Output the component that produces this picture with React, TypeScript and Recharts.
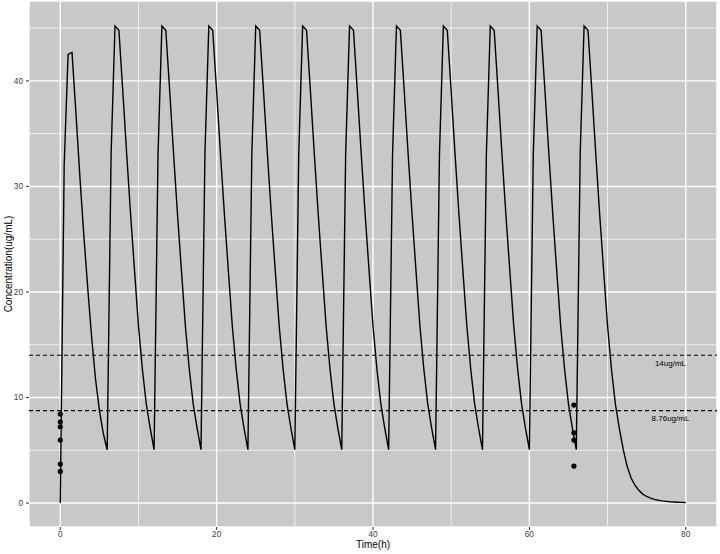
import {
  ComposedChart,
  Line,
  Scatter,
  XAxis,
  YAxis,
  CartesianGrid,
  ReferenceLine,
} from 'recharts';

// one point every half hour, a dose every 6 h
const STEP = 0.5;
const DOSE_INTERVAL = 6;
const DOSE_COUNT = 12;

// concentration over the first dosing interval (t = 0 .. 5.5)
const firstCycle = [0, 32, 42.5, 42.7, 37.0, 31.0, 25.5, 20.5, 15.8, 11.8, 8.8, 6.6];
// concentration over every later interval (relative t = 0 .. 5.5)
const steadyCycle = [5.05, 33, 45.2, 44.8, 39.0, 33.0, 27.3, 22.0, 16.8, 12.7, 9.4, 7.1];
// after the last dose, t = 72 .. 80
const washout = [
  5.1, 3.5, 2.4, 1.7, 1.2, 0.85, 0.62, 0.46, 0.35, 0.27, 0.2, 0.16, 0.12, 0.1, 0.08,
  0.06, 0.05,
];

// measured samples
const earlyObsTime = 0;
const earlyObs = [8.43, 7.7, 7.23, 5.97, 3.69, 3.0];
const lateObsTime = 65.7;
const lateObs = [9.28, 6.66, 5.97, 3.5];

const xTicks = [0, 20, 40, 60, 80];
const xMinor = [10, 30, 50, 70];
const yTicks = [0, 10, 20, 30, 40];
const yMinor = [5, 15, 25, 35, 45];

const thresholds = [
  { value: 14, label: '14ug/mL' },
  { value: 8.76, label: '8.76ug/mL' },
];

const curve: { t: number; conc: number }[] = [];
for (let d = 0; d < DOSE_COUNT; d++) {
  const cycle = d === 0 ? firstCycle : steadyCycle;
  cycle.forEach((c, i) => curve.push({ t: d * DOSE_INTERVAL + i * STEP, conc: c }));
}
washout.forEach((c, i) =>
  curve.push({ t: DOSE_COUNT * DOSE_INTERVAL + i * STEP, conc: c })
);

const observed = [
  ...earlyObs.map((c) => ({ t: earlyObsTime, conc: c })),
  ...lateObs.map((c) => ({ t: lateObsTime, conc: c })),
];

const FONT = '"Liberation Sans", Arial, sans-serif';
const PANEL = '#C8C8C8';

function ThresholdLabel({ viewBox, text }: any) {
  if (!viewBox) return null;
  return (
    <text
      x={viewBox.x + viewBox.width - 46.5}
      y={viewBox.y + 8}
      textAnchor="middle"
      dominantBaseline="central"
      fontSize={8}
      fontFamily={FONT}
      fill="#000"
    >
      {text}
    </text>
  );
}

function XTitle({ viewBox }: any) {
  if (!viewBox) return null;
  return (
    <text
      x={viewBox.x + viewBox.width / 2}
      y={viewBox.y + 20.5}
      textAnchor="middle"
      fontSize={10}
      fontFamily={FONT}
      fill="#000"
    >
      Time(h)
    </text>
  );
}

function YTitle({ viewBox }: any) {
  if (!viewBox) return null;
  const cy = viewBox.y + viewBox.height / 2;
  return (
    <text
      x={11.5}
      y={cy}
      transform={`rotate(-90, 11.5, ${cy})`}
      textAnchor="middle"
      fontSize={10}
      fontFamily={FONT}
      fill="#000"
    >
      Concentration(ug/mL)
    </text>
  );
}

export default function App() {
  return (
    <div
      style={{
        position: 'absolute',
        left: 0,
        top: 0,
        width: 720,
        height: 554,
        background: '#fff',
      }}
    >
      <ComposedChart
        width={720}
        height={554}
        data={curve}
        margin={{ top: 1, right: 3, bottom: 0, left: 0 }}
      >
        <CartesianGrid fill={PANEL} stroke="#fff" strokeWidth={1.4} />
        {xMinor.map((x) => (
          <ReferenceLine key={`vx${x}`} x={x} stroke="#fff" strokeWidth={0.7} />
        ))}
        {yMinor.map((y) => (
          <ReferenceLine key={`hy${y}`} y={y} stroke="#fff" strokeWidth={0.7} />
        ))}
        <XAxis
          type="number"
          dataKey="t"
          domain={[-4, 84]}
          ticks={xTicks}
          allowDataOverflow
          axisLine={false}
          tickSize={3}
          tickMargin={1}
          tickLine={{ stroke: '#333' }}
          tick={{ fill: '#404040', fontSize: 8.3, fontFamily: FONT }}
          height={27}
          label={<XTitle />}
        />
        <YAxis
          type="number"
          domain={[-2.27, 47.57]}
          ticks={yTicks}
          allowDataOverflow
          axisLine={false}
          tickSize={3}
          tickMargin={3}
          tickLine={{ stroke: '#333' }}
          tick={{ fill: '#404040', fontSize: 8.3, fontFamily: FONT }}
          width={29}
          label={<YTitle />}
        />
        {thresholds.map((th) => (
          <ReferenceLine
            key={th.label}
            y={th.value}
            stroke="#000"
            strokeWidth={1.1}
            strokeDasharray="4 3"
            label={<ThresholdLabel text={th.label} />}
          />
        ))}
        <Line
          type="linear"
          dataKey="conc"
          stroke="#000"
          strokeWidth={1.4}
          dot={false}
          activeDot={false}
          isAnimationActive={false}
        />
        <Scatter
          data={observed}
          dataKey="conc"
          fill="#000"
          shape={(p: any) => <circle cx={p.cx} cy={p.cy} r={2.6} fill="#000" />}
          isAnimationActive={false}
        />
      </ComposedChart>
    </div>
  );
}
